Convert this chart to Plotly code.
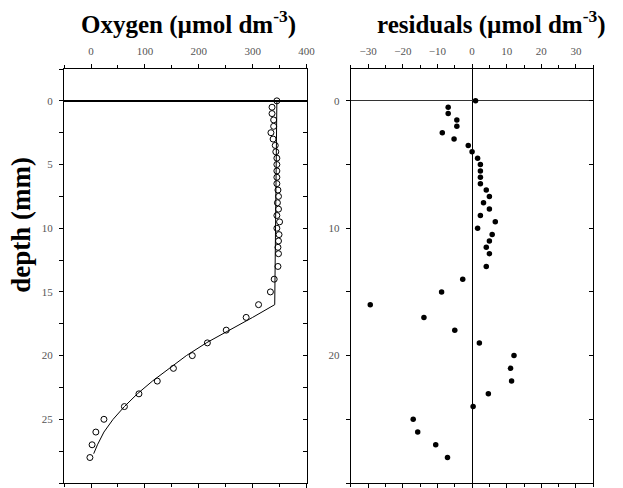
import plotly.graph_objects as go

# Microprofile depths (mm) shared by measurements and residuals
depth = [0, 0.5, 1, 1.5, 2, 2.5, 3, 3.5, 4, 4.5, 5, 5.5, 6, 6.5, 7, 7.5, 8, 8.5,
         9, 9.5, 10, 10.5, 11, 11.5, 12, 13, 14, 15, 16, 17, 18, 19, 20, 21,
         22, 23, 24, 25, 26, 27, 28]

# Measured oxygen concentration (umol dm-3)
oxygen = [345, 336, 336, 339, 339, 334, 338, 342, 343, 345, 345, 345, 345, 345,
          347, 348, 346, 348, 345, 350, 345, 349, 348, 347, 348, 347, 340, 333,
          311, 288, 251, 216, 188, 153, 123, 89, 62, 24, 9, 2, -2]

# Residuals of the fit (umol dm-3)
residual = [1, -6.9, -6.9, -4.4, -4.4, -8.6, -5.2, -1.1, 0, 1.6, 2.4, 2.4, 2.4,
            2.4, 4.1, 5.0, 3.3, 5.0, 2.4, 6.7, 1.6, 5.8, 5.0, 4.1, 5.0, 4.1,
            -2.7, -8.8, -29.4, -13.9, -5.0, 2.1, 12.1, 11.1, 11.4, 4.7, 0.3,
            -17.0, -15.7, -10.5, -7.1]

# Fitted model profile
fit_depth = [0, 16, 17, 18, 19, 20, 21, 22, 23, 24, 25, 26, 27, 27.7]
fit_oxygen = [345, 341, 300, 256, 214, 177, 145, 114, 86, 62, 41, 24, 12, 5]

o2_ticks = [0, 100, 200, 300, 400]
res_ticks = [-30, -20, -10, 0, 10, 20, 30]
depth_ticks_left = [0, 5, 10, 15, 20, 25, 30]
depth_ticks_right = [0, 10, 20, 30]

W, H = 623, 488
SERIF = "Liberation Serif"
tick_font = dict(family=SERIF, size=11, color="#555555")

left_dom = [65 / W, 311 / W]
right_dom = [356 / W, 602 / W]
y_dom = [1 - 483 / H, 1 - 69 / H]
depth_range = [30, -2.5]

fig = go.Figure()

fig.add_trace(go.Scatter(
    x=fit_oxygen, y=fit_depth, mode="lines",
    line=dict(color="black", width=1), xaxis="x", yaxis="y",
    showlegend=False, hoverinfo="skip"))
fig.add_trace(go.Scatter(
    x=oxygen, y=depth, mode="markers",
    marker=dict(symbol="circle-open", size=6, color="black", line=dict(width=1)),
    xaxis="x", yaxis="y", showlegend=False))
fig.add_trace(go.Scatter(
    x=residual, y=depth, mode="markers",
    marker=dict(symbol="circle", size=5.5, color="black"),
    xaxis="x2", yaxis="y2", showlegend=False))
# empty traces that carry the inward tick axes on the right-hand frames
fig.add_trace(go.Scatter(x=[None], y=[None], xaxis="x", yaxis="y3",
                         showlegend=False, hoverinfo="skip"))
fig.add_trace(go.Scatter(x=[None], y=[None], xaxis="x2", yaxis="y4",
                         showlegend=False, hoverinfo="skip"))

common = dict(showgrid=False, showline=True, linecolor="black", linewidth=1.3,
              ticks="outside", ticklen=4, tickcolor="black", tickwidth=1,
              tickfont=tick_font, ticklabelstandoff=4)

fig.update_layout(
    width=W, height=H,
    margin=dict(l=0, r=0, t=0, b=0),
    paper_bgcolor="white", plot_bgcolor="white",
    xaxis=dict(domain=left_dom, range=[-50, 400], side="top", anchor="y",
               tickvals=o2_ticks, mirror="ticks", zeroline=False,
               minor=dict(dtick=50, tick0=0, ticks="outside", ticklen=3,
                          tickcolor="black"), **common),
    yaxis=dict(domain=y_dom, range=depth_range, anchor="x",
               tickvals=depth_ticks_left, mirror=True,
               zeroline=True, zerolinecolor="black", zerolinewidth=1.5,
               minor=dict(dtick=2.5, tick0=0, ticks="outside", ticklen=4,
                          tickcolor="black"), **common),
    yaxis3=dict(overlaying="y", anchor="x", side="right", range=depth_range,
                showgrid=False, showline=False, zeroline=False,
                showticklabels=False, ticks="inside", ticklen=4,
                tickcolor="black", dtick=2.5, tick0=0),
    xaxis2=dict(domain=right_dom, range=[-35, 35], side="top", anchor="y2",
                tickvals=res_ticks, mirror="ticks",
                zeroline=True, zerolinecolor="black", zerolinewidth=1.2,
                minor=dict(dtick=5, tick0=0, ticks="outside", ticklen=3,
                           tickcolor="black"), **common),
    yaxis2=dict(domain=y_dom, range=depth_range, anchor="x2",
                tickvals=depth_ticks_right, mirror=True,
                zeroline=True, zerolinecolor="#333333", zerolinewidth=1,
                minor=dict(dtick=5, tick0=0, ticks="outside", ticklen=4,
                           tickcolor="black"), **common),
    yaxis4=dict(overlaying="y2", anchor="x2", side="right", range=depth_range,
                showgrid=False, showline=False, zeroline=False,
                showticklabels=False, ticks="inside", ticklen=4,
                tickcolor="black", dtick=5, tick0=0),
)

title_font = dict(family=SERIF, size=25, color="black")
fig.add_annotation(text="<b>Oxygen (µmol dm<sup>-3</sup>)</b>",
                   x=191 / W, y=1 - 23 / H, xref="paper", yref="paper",
                   xanchor="center", yanchor="middle", showarrow=False,
                   font=title_font)
fig.add_annotation(text="<b>residuals (µmol dm<sup>-3</sup>)</b>",
                   x=499 / W, y=1 - 23 / H, xref="paper", yref="paper",
                   xanchor="center", yanchor="middle", showarrow=False,
                   font=title_font)
fig.add_annotation(text="<b>depth (mm)</b>", textangle=-90,
                   x=21 / W, y=1 - 225 / H, xref="paper", yref="paper",
                   xanchor="center", yanchor="middle", showarrow=False,
                   font=dict(family=SERIF, size=27, color="black"))

fig.write_html("out.html")
